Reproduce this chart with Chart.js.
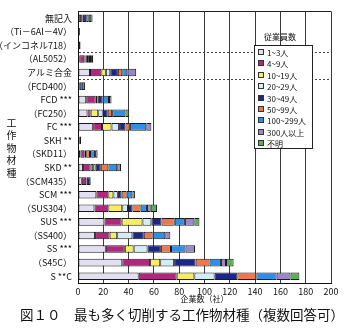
<!DOCTYPE html>
<html>
<head>
<meta charset="utf-8">
<script src="https://cdn.jsdelivr.net/npm/chart.js@4.4.0/dist/chart.umd.min.js"></script>
<style>
  body { margin: 0; background: #fff; }
  #wrap { position: relative; width: 357px; height: 330px; overflow: hidden;
          font-family: "Noto Sans CJK JP", sans-serif; color: #111; }
  #c { position: absolute; left: 0; top: 0; display: block; }
  #ytitle { position: absolute; left: 6px; top: 118px; font-size: 10px; line-height: 10px;
            writing-mode: vertical-rl; text-orientation: upright; letter-spacing: 2.5px; }
  #legtitle { position: absolute; left: 254px; top: 32px; width: 52px; text-align: center;
              font-size: 8px; line-height: 10px; }
  #legend { position: absolute; left: 254px; top: 45px; width: 57px; height: 102px;
            border: 1px solid #222; background: #fff; }
  .item { position: absolute; left: 3px; height: 10px; font-size: 8px; line-height: 10px; white-space: nowrap; }
  .item i { display: inline-block; width: 4px; height: 4px; border: 1px solid #333;
            margin-right: 3px; vertical-align: 1px; }
  #caption { position: absolute; left: 20px; top: 306px; font-size: 13.5px; line-height: 16px;
             white-space: nowrap; color: #111; }
</style>
</head>
<body>
<div id="wrap">
  <canvas id="c" width="357" height="305"></canvas>
  <div id="ytitle">工作物材種</div>
  <div id="legtitle">従業員数</div>
  <div id="legend"></div>
  <div id="caption">図１０　最も多く切削する工作物材種（複数回答可）</div>
</div>
<script>
var categories = ["無記入", "（Ti－6Al－4V）", "（インコネル718）", "（AL5052）", "アルミ合金",
  "（FCD400）", "FCD ***", "（FC250）", "FC ***", "SKH **", "（SKD11）", "SKD **",
  "（SCM435）", "SCM ***", "（SUS304）", "SUS ***", "（SS400）", "SS ***", "（S45C）", "S **C"];

var seriesNames = ["1~3人", "4~9人", "10~19人", "20~29人", "30~49人", "50~99人", "100~299人", "300人以上", "不明"];
var seriesColors = ["#e2dff0", "#b0287e", "#f6ee5c", "#d4ecf6", "#1c2588", "#f0764e", "#2f8fe6", "#9a88c8", "#5ab05a"];

// number of companies, one array per size class, same order as categories
var s1to3     = [0.5, 0, 0, 1, 9.5, 0, 6.5, 7.5, 12, 0, 2, 4, 3, 14.5, 13, 21, 13.5, 22, 35, 48];
var s4to9     = [2, 0, 0, 4, 9, 0, 7.5, 2.5, 7, 0, 3, 6, 3.5, 9.5, 11, 13.5, 11.5, 15, 22, 30];
var s10to19   = [1, 0, 0, 1, 3.5, 0, 1.5, 6, 7.5, 0, 0, 2, 0, 4, 11, 16.5, 6, 7, 8, 14];
var s20to29   = [0.5, 0, 0, 1, 3.5, 1, 1, 3.5, 6, 0, 0, 2, 0.5, 3.5, 4.5, 7, 12, 11, 11, 16];
var s30to49   = [2.5, 1.5, 2, 1, 6, 2, 3, 4, 5, 1, 1.5, 4, 3, 3, 3.5, 8, 9, 10.5, 17, 18];
var s50to99   = [2, 0, 0, 1.5, 3.5, 0, 0, 3.5, 3.5, 0, 3, 6, 0, 4, 6.5, 10.5, 7, 8, 11, 15];
var s100to299 = [2, 0, 0, 1.5, 4, 2.5, 5, 10.5, 13, 1.5, 4, 7, 0, 4.5, 5, 8, 10, 11.5, 9, 16];
var s300plus  = [1, 0, 0, 1, 7, 0, 2, 0, 4, 0, 2, 3, 0, 2, 3, 7.5, 4, 7.5, 4, 11];
var sUnknown  = [0, 0, 0, 0, 0, 0, 0, 3, 0, 0, 0, 0, 0, 0, 5, 4, 0, 0, 6, 7];

var xTicks = [0, 20, 40, 60, 80, 100, 120, 140, 160, 180, 200];
var separators = [3, 5]; // dotted lines above these categories

var allSeries = [s1to3, s4to9, s10to19, s20to29, s30to49, s50to99, s100to299, s300plus, sUnknown];
var font = "'Noto Sans CJK JP', sans-serif";

var datasets = allSeries.map(function (vals, i) {
  return {
    label: seriesNames[i],
    data: vals,
    backgroundColor: seriesColors[i],
    borderColor: "#1a1a1a",
    borderWidth: 1,
    borderSkipped: false,
    categoryPercentage: 0.56,
    barPercentage: 1
  };
});

// top edge of the frame
var framePlugin = {
  id: "frame",
  afterDraw: function (chart) {
    var a = chart.chartArea, ctx = chart.ctx;
    ctx.save();
    ctx.strokeStyle = "#222";
    ctx.lineWidth = 1;
    ctx.beginPath();
    ctx.moveTo(a.left, Math.round(a.top) + 0.5);
    ctx.lineTo(a.right, Math.round(a.top) + 0.5);
    ctx.stroke();
    ctx.restore();
  }
};

new Chart("c", {
  type: "bar",
  data: { labels: categories, datasets: datasets },
  plugins: [framePlugin],
  options: {
    responsive: false,
    devicePixelRatio: 1,
    animation: false,
    indexAxis: "y",
    layout: { padding: { top: 6, right: 26, left: 0, bottom: 0 } },
    plugins: { legend: { display: false }, tooltip: { enabled: false } },
    scales: {
      x: {
        stacked: true, min: 0, max: 200,
        afterBuildTicks: function (s) { s.ticks = xTicks.map(function (v) { return { value: v }; }); },
        ticks: { color: "#111", font: { size: 9, family: font }, padding: 3, maxRotation: 0 },
        grid: { color: "#3a3a3a", drawTicks: false },
        border: { color: "#111" },
        title: { display: true, text: "企業数（社）", color: "#111",
                 font: { size: 8, family: font }, padding: { top: 0, bottom: 1 } },
        afterFit: function (s) { s.height = 22; }
      },
      y: {
        stacked: true,
        ticks: { color: "#111", font: { size: 9, family: font }, padding: 6, autoSkip: false },
        grid: {
          drawTicks: false,
          color: function (ctx) { return separators.indexOf(ctx.index) >= 0 ? "#444" : "transparent"; }
        },
        border: { color: "#111", dash: [2, 2] },
        afterFit: function (s) { s.width = 78; }
      }
    }
  }
});

// legend box
var leg = document.getElementById("legend");
seriesNames.forEach(function (name, i) {
  var d = document.createElement("div");
  d.className = "item";
  d.style.top = (2 + i * 11.4) + "px";
  d.innerHTML = '<i style="background:' + seriesColors[i] + '"></i>' + name;
  leg.appendChild(d);
});
</script>
</body>
</html>
